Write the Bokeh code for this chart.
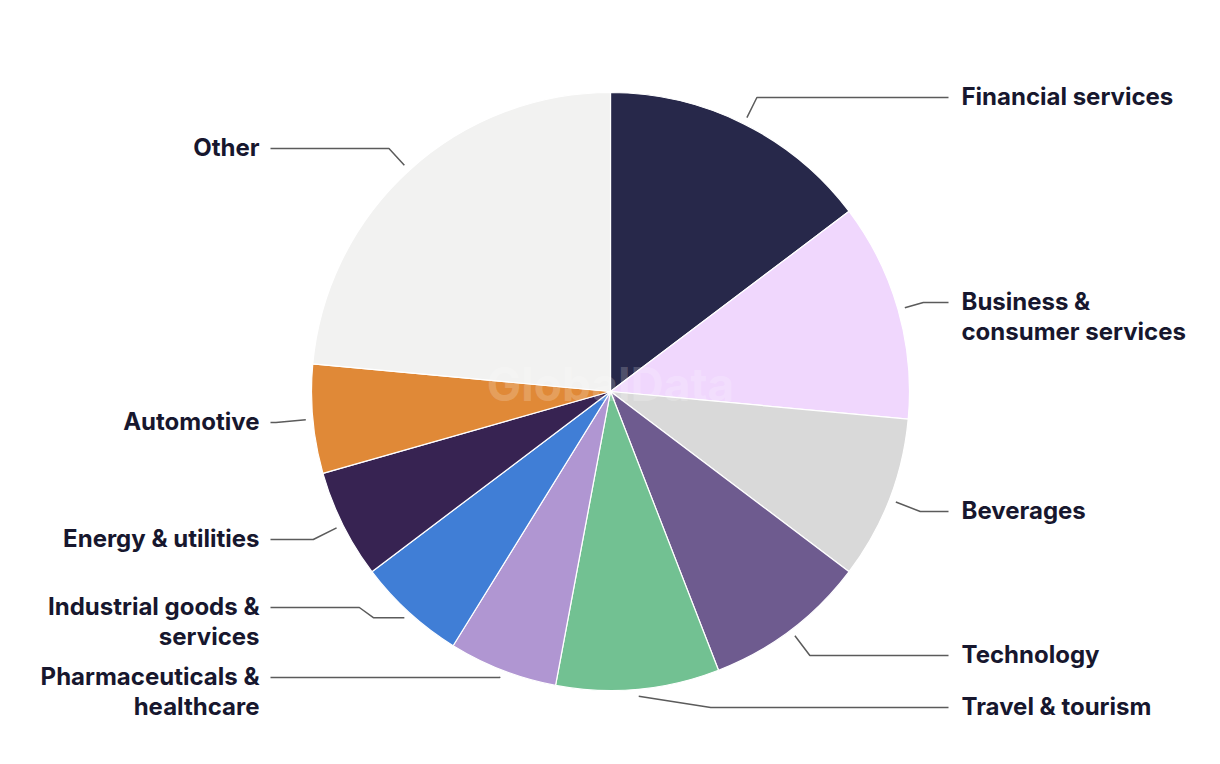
import math
from bokeh.plotting import figure
from bokeh.models import Range1d, ColumnDataSource
from bokeh.core.properties import value
from bokeh.embed import file_html
from bokeh.resources import INLINE

# ---- data ----
categories = ["Financial services", "Business & consumer services", "Beverages",
              "Technology", "Travel & tourism", "Pharmaceuticals & healthcare",
              "Industrial goods & services", "Energy & utilities", "Automotive", "Other"]
values = [5, 4, 3, 3, 3, 2, 2, 2, 2, 8]
colors = ["#27284a", "#f0d7fd", "#d9d9d9", "#6e5b8f", "#72c192",
          "#b096d2", "#407ed6", "#372352", "#e08937", "#f2f2f1"]
label_lines = [["Financial services"], ["Business &", "consumer services"], ["Beverages"],
               ["Technology"], ["Travel & tourism"], ["Pharmaceuticals &", "healthcare"],
               ["Industrial goods &", "services"], ["Energy & utilities"], ["Automotive"], ["Other"]]

# ---- layout (screen pixels) ----
W, H = 1220, 764
CX, CY, R = 610, 391, 299
label_y = [97, 302, 511, 655, 707, 677, 607, 539, 422, 148]
side = ["r", "r", "r", "r", "r", "l", "l", "l", "l", "l"]
RIGHT_END, RIGHT_TEXT = 948, 961
LEFT_END, LEFT_TEXT = 270, 259
LINE_GAP = 30
# connector overrides: list of (dx from start, "s" = start y / "l" = label y)
overrides = {4: [(72, "l")], 6: [(-31, "s"), (-45, "l")]}

def Y(sy):
    return H - sy

p = figure(width=W, height=H, x_range=Range1d(0, W), y_range=Range1d(0, H),
           output_backend="svg", toolbar_location=None,
           x_axis_location=None, y_axis_location=None, min_border=0)
p.grid.visible = False
p.outline_line_color = None
p.background_fill_color = "white"
p.border_fill_color = "white"

total = sum(values)
starts, ends, mids = [], [], []
a = math.pi / 2
for v in values:
    span = 2 * math.pi * v / total
    ends.append(a)
    starts.append(a - span)
    mids.append(a - span / 2)
    a -= span

src = ColumnDataSource(dict(x=[CX] * len(values), y=[Y(CY)] * len(values),
                            start=starts, end=ends, color=colors, cat=categories))
p.wedge(x="x", y="y", radius=R, start_angle="start", end_angle="end",
        direction="anticlock", fill_color="color", line_color="white",
        line_width=1.2, source=src)

# watermark
p.text(x=[CX], y=[Y(383)], text=["GlobalData"], text_align="center",
       text_baseline="middle", text_font=value("Inter"), text_font_style="bold",
       text_font_size="46px", text_color="white", text_alpha=0.2)

# connectors and labels
for i, m in enumerate(mids):
    sx = CX + (R + 7) * math.cos(m)
    sy = CY - (R + 7) * math.sin(m)
    ly = label_y[i]
    xs, ys = [sx], [sy]
    if i in overrides:
        for dx, yk in overrides[i]:
            xs.append(sx + dx)
            ys.append(sy if yk == "s" else ly)
    else:
        dxu, dyu = math.cos(m), -math.sin(m)
        t = (ly - sy) / dyu if abs(dyu) > 1e-6 else 0
        if t < 0:
            t = 0
        xs.append(sx + t * dxu)
        ys.append(ly)
    end_x = RIGHT_END if side[i] == "r" else LEFT_END
    xs.append(end_x)
    ys.append(ly)
    p.line(x=xs, y=[Y(v) for v in ys], line_color="#5b5b5b", line_width=1.5)

    tx = RIGHT_TEXT if side[i] == "r" else LEFT_TEXT
    for k, line in enumerate(label_lines[i]):
        p.text(x=[tx], y=[Y(ly - 1 + k * LINE_GAP)], text=[line],
               text_align="left" if side[i] == "r" else "right",
               text_baseline="middle", text_font=value("Inter"),
               text_font_style="bold", text_font_size="24px", text_color="#17172e")

open("out.html", "w").write(file_html(p, INLINE))
